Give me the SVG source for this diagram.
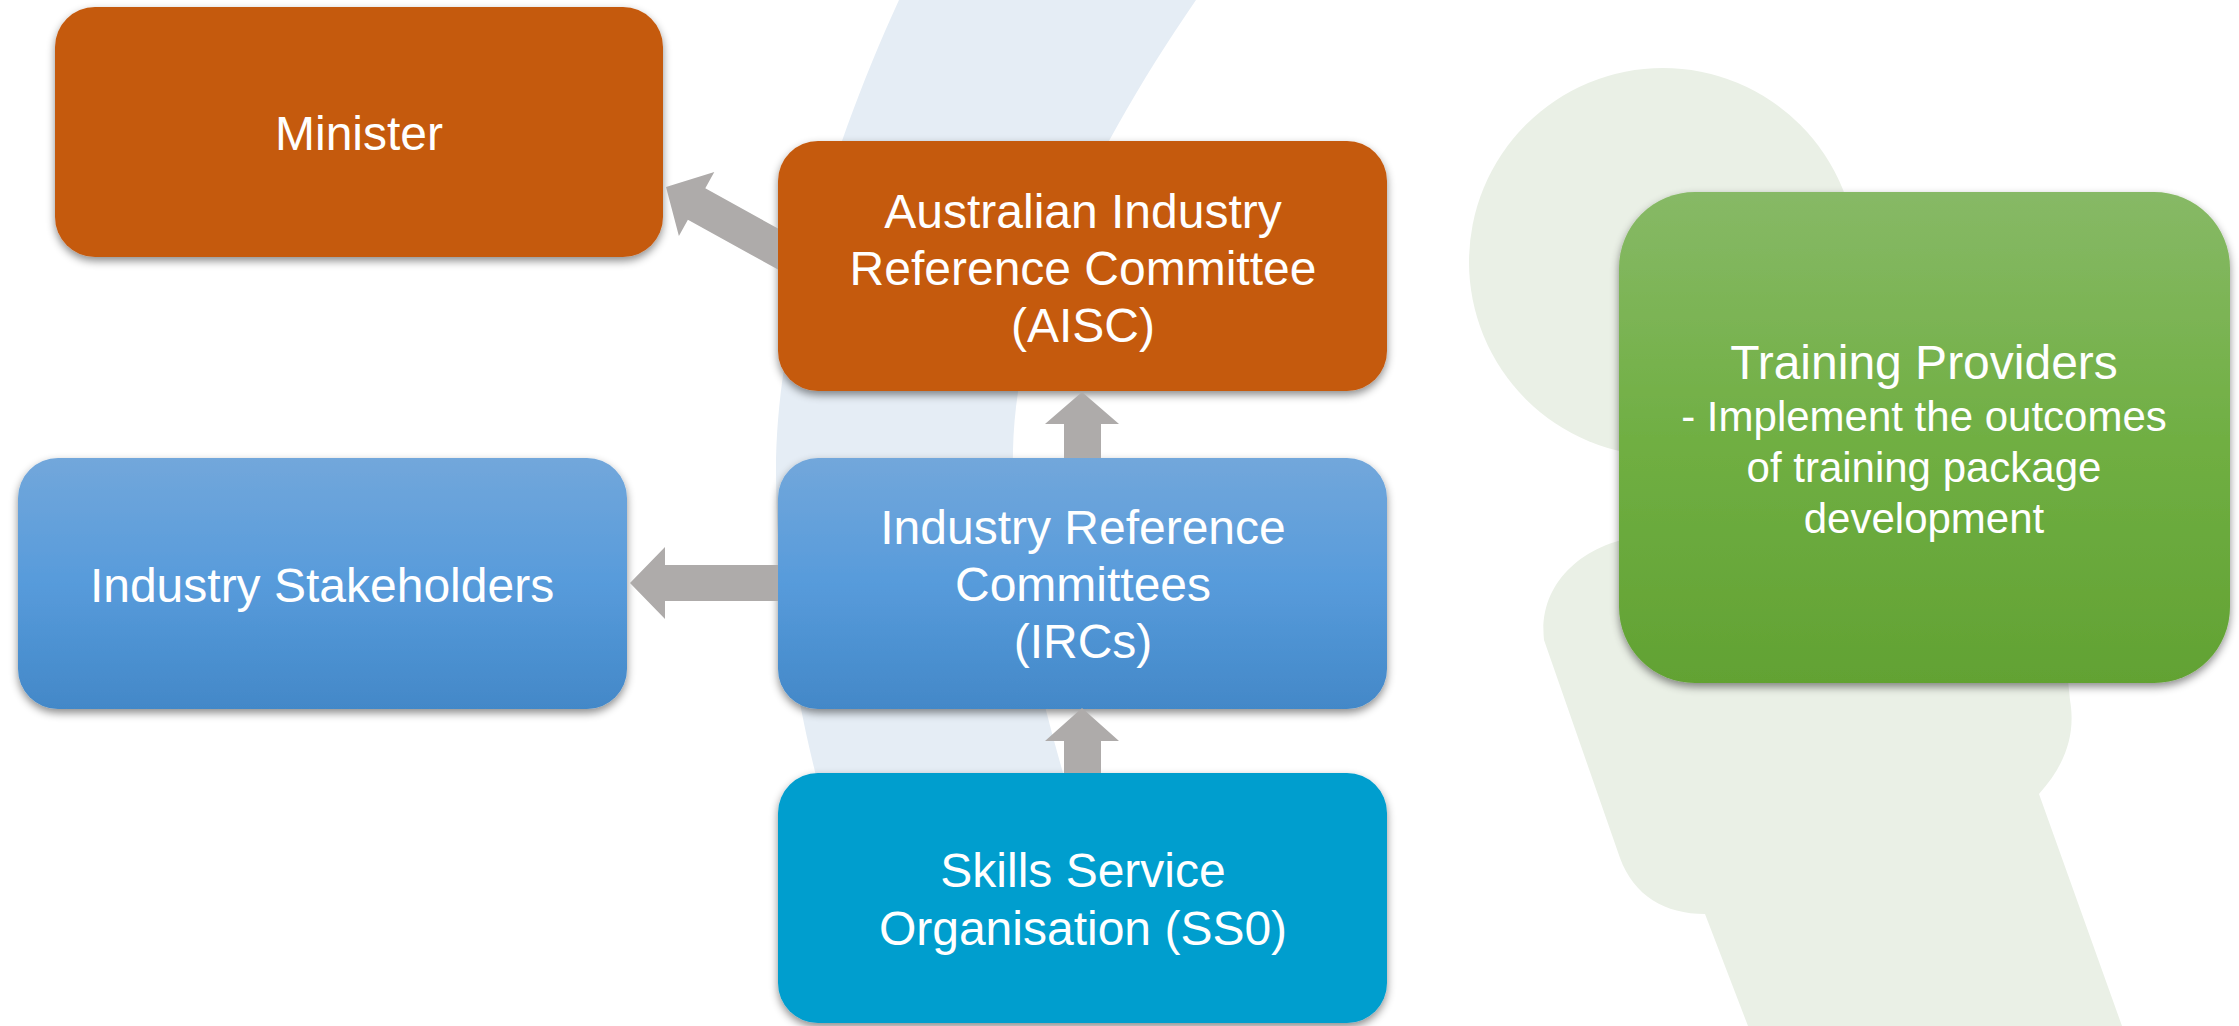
<svg xmlns="http://www.w3.org/2000/svg" width="2239" height="1026" viewBox="0 0 2239 1026">
<style>
.lbl{font-family:"Liberation Sans",Arial,sans-serif;font-size:48px;fill:#FFFFFF;text-anchor:middle}
.sub{font-size:42px}
.arrow{fill:#AEABAA}
.bg-blue{fill:#E5EDF5}
.bg-green{fill:#EAF0E6}
.orange{fill:#C55A11}
</style>
<defs>
<filter id="sh" x="-10%" y="-10%" width="120%" height="130%">
<feDropShadow dx="0" dy="4" stdDeviation="4" flood-color="#000000" flood-opacity="0.45"/>
</filter>
<linearGradient id="gBlue" x1="0" y1="0" x2="0" y2="1">
<stop offset="0" stop-color="#72A7DB"/>
<stop offset="0.5" stop-color="#579BDB"/>
<stop offset="1" stop-color="#4388C8"/>
</linearGradient>
<linearGradient id="gGreen" x1="0" y1="0" x2="0" y2="1">
<stop offset="0" stop-color="#87B966"/>
<stop offset="0.5" stop-color="#70AF43"/>
<stop offset="1" stop-color="#62A233"/>
</linearGradient>
</defs>
<rect width="2239" height="1026" fill="#FFFFFF"/>
<g id="background">
<path class="bg-blue" d="M 899,0 C 830,150 776,330 776,470 C 776,600 800,720 830,830 L 1080,830 C 1040,700 1010,580 1013,450 C 1016,300 1100,140 1196,0 Z"/>
<ellipse class="bg-green" cx="1663" cy="262" rx="194" ry="194"/>
<path class="bg-green" d="M 1700,535 L 1640,536 C 1580,545 1538,585 1544,640 L 1620,858 C 1634,896 1665,914 1705,914 L 1748,1026 L 2122,1026 L 2039,794 C 2065,765 2076,735 2070,700 L 2060,600 Z"/>
</g>
<g id="node-minister">
<rect class="orange" x="55" y="7" width="608" height="250" rx="40" ry="40" filter="url(#sh)"/>
<text class="lbl" x="359" y="150">Minister</text>
</g>
<g id="node-aisc">
<rect class="orange" x="778" y="141" width="609" height="250" rx="40" ry="40" filter="url(#sh)"/>
<text class="lbl" x="1083" y="228">Australian Industry</text>
<text class="lbl" x="1083" y="285">Reference Committee</text>
<text class="lbl" x="1083" y="342">(AISC)</text>
</g>
<g id="node-stakeholders">
<rect x="18" y="458" width="609" height="251" rx="40" ry="40" fill="url(#gBlue)" filter="url(#sh)"/>
<text class="lbl" x="322" y="602">Industry Stakeholders</text>
</g>
<g id="node-ircs">
<rect x="778" y="458" width="609" height="251" rx="40" ry="40" fill="url(#gBlue)" filter="url(#sh)"/>
<text class="lbl" x="1083" y="544">Industry Reference</text>
<text class="lbl" x="1083" y="601">Committees</text>
<text class="lbl" x="1083" y="658">(IRCs)</text>
</g>
<g id="node-sso">
<rect x="778" y="773" width="609" height="250" rx="40" ry="40" fill="#009ECE" filter="url(#sh)"/>
<text class="lbl" x="1083" y="887">Skills Service</text>
<text class="lbl" x="1083" y="945">Organisation (SS0)</text>
</g>
<g id="node-training">
<rect x="1619" y="192" width="611" height="491" rx="76" ry="76" fill="url(#gGreen)" filter="url(#sh)"/>
<text class="lbl" x="1924" y="379">Training Providers</text>
<text class="lbl sub" x="1924" y="431">- Implement the outcomes</text>
<text class="lbl sub" x="1924" y="482">of training package</text>
<text class="lbl sub" x="1924" y="533">development</text>
</g>
<g id="connectors">
<polygon class="arrow" points="666,187 714.3,172.1 705.3,188.2 778,228.5 778,269.6 687.9,219.7 678.9,235.9"/>
<polygon class="arrow" points="1082,392 1119,424 1101,424 1101,458 1064,458 1064,424 1045,424"/>
<polygon class="arrow" points="1082,708 1119,741 1101,741 1101,773 1064,773 1064,741 1045,741"/>
<polygon class="arrow" points="630,583 665,547 665,565 778,565 778,601 665,601 665,619"/>
</g>
</svg>
